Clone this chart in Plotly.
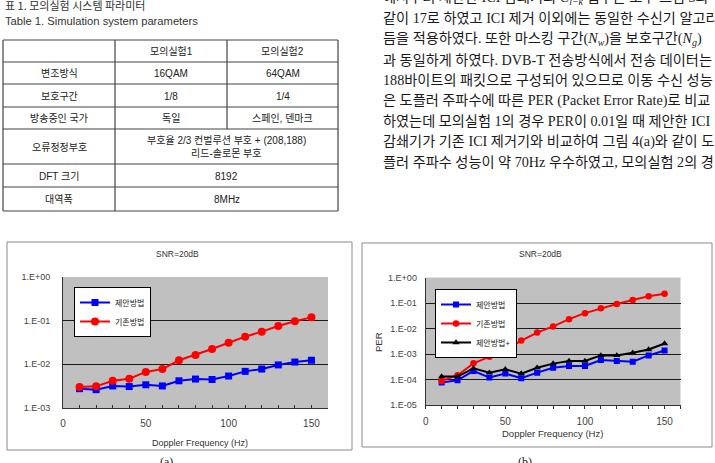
import plotly.graph_objects as go

# ---------------- data ----------------
freq = [10, 20, 30, 40, 50, 60, 70, 80, 90, 100, 110, 120, 130, 140, 150]

a_proposed = [2.77e-3, 2.63e-3, 3.2e-3, 3.1e-3, 3.4e-3, 3.2e-3, 4.2e-3, 4.6e-3,
              4.5e-3, 5.4e-3, 6.9e-3, 7.8e-3, 9.7e-3, 1.13e-2, 1.24e-2]
a_existing = [3.03e-3, 3.13e-3, 4.2e-3, 4.7e-3, 6.7e-3, 7.8e-3, 1.24e-2, 1.64e-2,
              2.25e-2, 3.13e-2, 4.3e-2, 5.6e-2, 7.55e-2, 9.7e-2, 0.119]

b_proposed = [7.6e-5, 9.3e-5, 2.16e-4, 1.19e-4, 1.7e-4, 1.12e-4, 1.86e-4, 2.9e-4,
              3.4e-4, 3.4e-4, 5.8e-4, 5.3e-4, 5.0e-4, 8.8e-4, 1.37e-3]
b_existing = [8.8e-5, 1.47e-4, 4.3e-4, 7.8e-4, 1.41e-3, 3.36e-3, 6.9e-3, 1.21e-2,
              2.33e-2, 4.0e-2, 6.2e-2, 9.2e-2, 0.131, 0.183, 0.232]
b_proposed_plus = [1.3e-4, 1.3e-4, 2.74e-4, 1.86e-4, 2.5e-4, 1.7e-4, 2.9e-4, 4.2e-4,
                   5.3e-4, 5.3e-4, 8.8e-4, 8.8e-4, 1.11e-3, 1.5e-3, 2.57e-3]

series_names = ["제안방법", "기존방법", "제안방법+"]

x_ticks = [0, 50, 100, 150]
a_yticks = [1e-3, 1e-2, 1e-1, 1]
a_yticktext = ["1.E-03", "1.E-02", "1.E-01", "1.E+00"]
b_yticks = [1e-5, 1e-4, 1e-3, 1e-2, 1e-1, 1]
b_yticktext = ["1.E-05", "1.E-04", "1.E-03", "1.E-02", "1.E-01", "1.E+00"]

chart_title = "SNR=20dB"
x_title = "Doppler Frequency (Hz)"
y_title_b = "PER"
captions = ["(a)", "(b)"]

table_caption_kr = "표 1. 모의실험 시스템 파라미터"
table_caption_en = "Table 1. Simulation system parameters"
table_header = ["", "모의실험1", "모의실험2"]
table_rows = [
    ["변조방식", "16QAM", "64QAM"],
    ["보호구간", "1/8", "1/4"],
    ["방송중인 국가", "독일", "스페인, 덴마크"],
]
table_merged_rows = [
    ["오류정정부호", ["부호율 2/3 컨벌루션 부호 + (208,188)", "리드-솔로몬 부호"]],
    ["DFT 크기", ["8192"]],
    ["대역폭", ["8MHz"]],
]

body_lines = [
    "에서부터 제안한 ICI 감쇄기의 <i>C</i><sub><i>l−k</i></sub> 탭수는 모두 그림 3과",
    "같이 17로 하였고 ICI 제거 이외에는 동일한 수신기 알고리즘",
    "듬을 적용하였다. 또한 마스킹 구간(<i>N<sub>w</sub></i>)을 보호구간(<i>N<sub>g</sub></i>)",
    "과 동일하게 하였다. DVB-T 전송방식에서 전송 데이터는",
    "188바이트의 패킷으로 구성되어 있으므로 이동 수신 성능",
    "은 도플러 주파수에 따른 PER (Packet Error Rate)로 비교",
    "하였는데 모의실험 1의 경우 PER이 0.01일 때 제안한 ICI",
    "감쇄기가 기존 ICI 제거기와 비교하여 그림 4(a)와 같이 도",
    "플러 주파수 성능이 약 70Hz 우수하였고, 모의실험 2의 경",
]

# ---------------- layout helpers ----------------
W, H = 715, 463


def px(x):
    return x / W


def py(y):
    return 1 - y / H


SANS = "Liberation Sans, Noto Sans CJK KR, sans-serif"
KR = "Noto Sans CJK KR, Liberation Sans, sans-serif"
SERIF = "Liberation Serif, Noto Sans CJK KR, serif"

BLUE, RED, BLACK = "#0000FF", "#FF0000", "#000000"

fig = go.Figure()

# chart (a)
fig.add_trace(go.Scatter(x=freq, y=a_proposed, name=series_names[0], mode="lines+markers",
                         line=dict(color=BLUE, width=2),
                         marker=dict(symbol="square", size=7, color=BLUE),
                         xaxis="x", yaxis="y", legend="legend"))
fig.add_trace(go.Scatter(x=freq, y=a_existing, name=series_names[1], mode="lines+markers",
                         line=dict(color=RED, width=2),
                         marker=dict(symbol="circle", size=8, color=RED),
                         xaxis="x", yaxis="y", legend="legend"))

# chart (b)
fig.add_trace(go.Scatter(x=freq, y=b_proposed, name=series_names[0], mode="lines+markers",
                         line=dict(color=BLUE, width=2),
                         marker=dict(symbol="square", size=6, color=BLUE),
                         xaxis="x2", yaxis="y2", legend="legend2"))
fig.add_trace(go.Scatter(x=freq, y=b_existing, name=series_names[1], mode="lines+markers",
                         line=dict(color=RED, width=2),
                         marker=dict(symbol="circle", size=6.5, color=RED),
                         xaxis="x2", yaxis="y2", legend="legend2"))
fig.add_trace(go.Scatter(x=freq, y=b_proposed_plus, name=series_names[2], mode="lines+markers",
                         line=dict(color=BLACK, width=2),
                         marker=dict(symbol="triangle-up", size=6.5, color=BLACK),
                         xaxis="x2", yaxis="y2", legend="legend2"))


def xaxis_cfg(x0, x1, anchor, ticks, standoff):
    return dict(domain=[px(x0), px(x1)], range=[0, 160], anchor=anchor,
                tickvals=x_ticks, ticks=ticks, ticklen=3, tickcolor="#333",
                minor=dict(dtick=10, tick0=0, ticks=ticks, ticklen=3, tickcolor="#333"),
                showline=True, linecolor="#333", linewidth=1, showgrid=False,
                zeroline=False, automargin=False, fixedrange=True,
                tickfont=dict(family=SANS, size=10, color="#444"),
                ticklabelstandoff=standoff)


def yaxis_cfg(ytop, ybot, anchor, rng, vals, text, standoff):
    return dict(domain=[py(ybot), py(ytop)], type="log", range=rng, anchor=anchor,
                tickvals=vals, ticktext=text, ticks="",
                showline=True, linecolor="#333", linewidth=1,
                showgrid=True, gridcolor="#1a1a1a", gridwidth=1,
                zeroline=False, automargin=False, fixedrange=True,
                tickfont=dict(family=SANS, size=9, color="#444"),
                ticklabelstandoff=standoff)


legend_common = dict(bgcolor="white", bordercolor="black", borderwidth=1,
                     font=dict(family=KR, size=8, color="#222"),
                     itemwidth=30, tracegroupgap=0, xanchor="left", yanchor="top",
                     traceorder="normal")

fig.update_layout(
    width=W, height=H,
    margin=dict(l=0, r=0, t=0, b=0),
    paper_bgcolor="white",
    plot_bgcolor="#C0C0C0",
    xaxis=xaxis_cfg(63, 328, "y", "inside", 6),
    yaxis=yaxis_cfg(277, 408, "x", [-3, 0], a_yticks, a_yticktext, 10),
    xaxis2=xaxis_cfg(425.7, 680.5, "y2", "outside", 4),
    yaxis2=yaxis_cfg(277.5, 405, "x2", [-5, 0], b_yticks, b_yticktext, 6),
    legend=dict(x=px(74), y=py(287), **legend_common),
    legend2=dict(x=px(435), y=py(289), **legend_common),
)

shapes = []
annotations = []

# chart frames
for (x0, y0, x1, y1) in [(7, 242, 352, 450), (362, 243, 712, 447)]:
    shapes.append(dict(type="rect", xref="paper", yref="paper",
                       x0=px(x0), x1=px(x1), y0=py(y0), y1=py(y1),
                       line=dict(color="#8a8a8a", width=1), fillcolor="rgba(0,0,0,0)",
                       layer="below"))


def add_text(text, x, y, size, family=SANS, color="#222", xanchor="center",
             yanchor="middle", angle=0):
    annotations.append(dict(text=text, x=px(x), y=py(y), xref="paper", yref="paper",
                            xanchor=xanchor, yanchor=yanchor, showarrow=False,
                            textangle=angle,
                            font=dict(family=family, size=size, color=color)))


# chart texts
add_text(chart_title, 177, 254, 8.5, color="#333")
add_text(chart_title, 540, 254, 8.5, color="#333")
add_text(x_title, 200, 443, 9, color="#333")
add_text(x_title, 552, 433.5, 9.5, color="#333")
add_text(y_title_b, 378, 342, 9.5, color="#333", angle=-90)
add_text(captions[0], 158, 453, 12, family=SERIF, xanchor="left", yanchor="top")
add_text(captions[1], 516, 453, 12, family=SERIF, xanchor="left", yanchor="top")

# table caption
add_text(table_caption_kr, 3, 5, 11, family=KR, color="#333", xanchor="left")
add_text(table_caption_en, 3, 21, 11.2, family=SANS, color="#333", xanchor="left")

# table grid
t_left, t_c1, t_c2, t_right = 3, 115, 227, 338
row_edges = [40, 62, 84, 107, 129, 164, 187, 211]
grid_color = "#444"
for yy in row_edges:
    shapes.append(dict(type="line", xref="paper", yref="paper",
                       x0=px(t_left), x1=px(t_right), y0=py(yy), y1=py(yy),
                       line=dict(color=grid_color, width=1.2)))
for xx in [t_left, t_c1, t_right]:
    shapes.append(dict(type="line", xref="paper", yref="paper",
                       x0=px(xx), x1=px(xx), y0=py(row_edges[0]), y1=py(row_edges[-1]),
                       line=dict(color=grid_color, width=1.2)))
shapes.append(dict(type="line", xref="paper", yref="paper",
                   x0=px(t_c2), x1=px(t_c2), y0=py(row_edges[0]), y1=py(row_edges[4]),
                   line=dict(color=grid_color, width=1.2)))

col_centers = [(t_left + t_c1) / 2, (t_c1 + t_c2) / 2, (t_c2 + t_right) / 2]
merged_center = (t_c1 + t_right) / 2
TFS = 10
all_simple = [table_header] + table_rows
for i, row in enumerate(all_simple):
    yc = (row_edges[i] + row_edges[i + 1]) / 2 + 0.5
    for j, cell in enumerate(row):
        if cell:
            add_text(cell, col_centers[j], yc, TFS, family=SANS, color="#222")
for k, (label, lines) in enumerate(table_merged_rows):
    i = len(all_simple) + k
    yc = (row_edges[i] + row_edges[i + 1]) / 2 + 0.5
    add_text(label, col_centers[0], yc, TFS, family=SANS, color="#222")
    n = len(lines)
    for m, ln in enumerate(lines):
        add_text(ln, merged_center, yc + (m - (n - 1) / 2) * 14, TFS, family=SANS, color="#222")

# body text (right column)
body_y0, body_dy = -2, 20.5
for k, ln in enumerate(body_lines):
    add_text(ln, 381, body_y0 + k * body_dy, 14.2, family=SERIF, color="#1a1a1a",
             xanchor="left")

fig.update_layout(shapes=shapes, annotations=annotations)

fig.write_html("out.html", config=dict(displayModeBar=False))
